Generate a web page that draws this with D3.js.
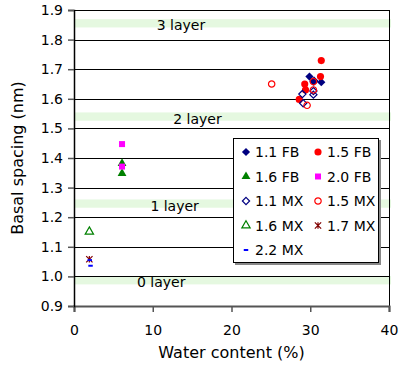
<!DOCTYPE html>
<html>
<head>
<meta charset="utf-8">
<script src="https://cdn.jsdelivr.net/npm/d3@7"></script>
<style>
  body { margin: 0; background: #fff; }
  text { font-family: "DejaVu Sans", Verdana, sans-serif; fill: #000; }
</style>
</head>
<body>
<div id="chart"></div>
<script>
// ---- data ----
const xTicks = [0, 10, 20, 30, 40];
const yTicks = [0.9, 1.0, 1.1, 1.2, 1.3, 1.4, 1.5, 1.6, 1.7, 1.8, 1.9];

const layerNames = ["0 layer", "1 layer", "2 layer", "3 layer"];
const layerSpacing = [0.987, 1.246, 1.54, 1.855];
const layerLabelX = [8.0, 9.7, 12.6, 10.5];

const seriesNames = ["1.1 FB", "1.5 FB", "1.6 FB", "2.0 FB", "1.1 MX", "1.5 MX", "1.6 MX", "1.7 MX", "2.2 MX"];
const fb11 = [[29.9, 1.675], [31.4, 1.656], [30.4, 1.658]];
const fb15 = [[31.4, 1.729], [31.3, 1.675], [29.3, 1.650], [29.4, 1.630], [28.6, 1.598]];
const fb16 = [[6.1, 1.382], [6.1, 1.348]];
const fb20 = [[6.1, 1.447], [6.1, 1.371]];
const mx11 = [[30.5, 1.660], [30.4, 1.626], [30.4, 1.614], [29.0, 1.616], [29.1, 1.585]];
const mx15 = [[25.1, 1.650], [30.4, 1.658], [30.4, 1.630], [29.6, 1.578]];
const mx16 = [[1.95, 1.151]];
const mx17 = [[1.95, 1.058]];
const mx22 = [[2.0, 1.055], [2.1, 1.036]];

// custom marker shapes
const asterisk = {
    draw(ctx, size) {
        const r = Math.sqrt(size) / 2;
        ctx.moveTo(-r, -r); ctx.lineTo(r, r);
        ctx.moveTo(-r, r); ctx.lineTo(r, -r);
        ctx.moveTo(0, -r); ctx.lineTo(0, r);
    }
};
const dash = {
    draw(ctx, size) {
        const w = Math.sqrt(size) / 2;
        ctx.rect(-w, -1, 2 * w, 2);
    }
};
const diamond = {
    draw(ctx, size) {
        const r = Math.sqrt(size / 2);
        ctx.moveTo(0, -r); ctx.lineTo(r, 0);
        ctx.lineTo(0, r); ctx.lineTo(-r, 0);
        ctx.closePath();
    }
};

const styles = [
    { data: fb11, type: diamond, size: 34, fill: "#000080", stroke: "none" },
    { data: fb15, type: d3.symbolCircle, size: 40, fill: "#ff0000", stroke: "none" },
    { data: fb16, type: d3.symbolTriangle, size: 34, fill: "#008000", stroke: "none" },
    { data: fb20, type: d3.symbolSquare, size: 36, fill: "#ff00ff", stroke: "none" },
    { data: mx11, type: diamond, size: 26, fill: "none", stroke: "#000080" },
    { data: mx15, type: d3.symbolCircle, size: 32, fill: "none", stroke: "#ff0000" },
    { data: mx16, type: d3.symbolTriangle, size: 30, fill: "none", stroke: "#008000" },
    { data: mx17, type: asterisk, size: 40, fill: "none", stroke: "#800000" },
    { data: mx22, type: dash, size: 20, fill: "#0000ff", stroke: "none" }
];

let margin = { top: 10, right: 13, bottom: 61, left: 74 },
    width = 402 - margin.left - margin.right,
    height = 367 - margin.top - margin.bottom;

let svg = d3.select("#chart")
    .append("svg")
    .attr("width", 402)
    .attr("height", 367)
    .append("g")
    .attr("transform", "translate(" + margin.left + "," + margin.top + ")");

let x = d3.scaleLinear().domain([0, 40]).range([0, width]);
let y = d3.scaleLinear().domain([0.9, 1.9]).range([height, 0]);

// ---- layer bands ----
svg.selectAll(".band")
    .data(layerSpacing)
    .enter()
    .append("rect")
    .attr("class", "band")
    .attr("x", 0)
    .attr("width", width + 2)
    .attr("y", d => y(d + 0.014))
    .attr("height", d => y(d - 0.014) - y(d + 0.014))
    .attr("fill", "#e5f8e0");

// ---- gridlines ----
svg.selectAll(".grid")
    .data(yTicks.slice(1))
    .enter()
    .append("line")
    .attr("class", "grid")
    .attr("x1", 0)
    .attr("x2", width)
    .attr("y1", d => Math.round(y(d)) + 0.5)
    .attr("y2", d => Math.round(y(d)) + 0.5)
    .attr("stroke", "#000")
    .attr("stroke-width", 1);

// right border
svg.append("line")
    .attr("x1", width + 0.5).attr("x2", width + 0.5)
    .attr("y1", 0).attr("y2", height)
    .attr("stroke", "#000");

// ---- layer labels ----
svg.selectAll(".layer")
    .data(layerNames)
    .enter()
    .append("text")
    .attr("class", "layer")
    .attr("x", (d, i) => x(layerLabelX[i]))
    .attr("y", (d, i) => y(layerSpacing[i]))
    .attr("dy", "0.5em")
    .style("font-size", "14px")
    .text(d => d);

// ---- axes ----
let xAxis = d3.axisBottom(x).tickValues(xTicks).tickSize(6).tickPadding(13).tickFormat(d3.format("d"));
let yAxis = d3.axisLeft(y).tickValues(yTicks).tickSize(6).tickPadding(5).tickFormat(d3.format(".1f"));

let xAxisGroup = svg.append("g")
    .attr("class", "x-axis axis")
    .attr("transform", "translate(0," + height + ")")
    .call(xAxis);
let yAxisGroup = svg.append("g")
    .attr("class", "y-axis axis")
    .call(yAxis);

svg.selectAll(".axis text").style("font-size", "14px");
xAxisGroup.select(".domain").attr("stroke", "#555").attr("stroke-width", 2);
xAxisGroup.selectAll(".tick line").attr("stroke", "#555").attr("stroke-width", 1.5);
yAxisGroup.select(".domain").attr("stroke", "#000").attr("stroke-width", 1.5);
yAxisGroup.selectAll(".tick line").attr("stroke", "#555").attr("stroke-width", 1.5);

// axis titles
svg.append("text")
    .attr("text-anchor", "middle")
    .attr("transform", "rotate(-90)")
    .attr("x", -height / 2)
    .attr("y", -51)
    .style("font-size", "16px")
    .text("Basal spacing (nm)");

svg.append("text")
    .attr("text-anchor", "middle")
    .attr("x", width / 2)
    .attr("y", height + 52)
    .style("font-size", "16px")
    .text("Water content (%)");

// ---- points ----
styles.forEach(function(s, i) {
    svg.selectAll(".pt" + i)
        .data(s.data)
        .enter()
        .append("path")
        .attr("class", "pt" + i)
        .attr("d", d3.symbol().type(s.type).size(s.size))
        .attr("transform", d => "translate(" + x(d[0]) + "," + y(d[1]) + ")")
        .attr("fill", s.fill)
        .attr("stroke", s.stroke)
        .attr("stroke-width", 1.2);
});

// ---- legend ----
let legend = svg.append("g").attr("transform", "translate(159,128)");
legend.append("rect")
    .attr("x", 2).attr("y", 2)
    .attr("width", 146).attr("height", 125)
    .attr("fill", "#888");
legend.append("rect")
    .attr("x", 0.5).attr("y", 0.5)
    .attr("width", 145).attr("height", 124)
    .attr("fill", "#fff")
    .attr("stroke", "#000");

let items = legend.selectAll(".item")
    .data(seriesNames)
    .enter()
    .append("g")
    .attr("class", "item")
    .attr("transform", (d, i) => "translate(" + (i % 2 === 0 ? 13 : 85) + "," + (14 + Math.floor(i / 2) * 24.5) + ")");

items.append("path")
    .attr("d", (d, i) => d3.symbol().type(styles[i].type).size(styles[i].size)())
    .attr("fill", (d, i) => styles[i].fill)
    .attr("stroke", (d, i) => styles[i].stroke)
    .attr("stroke-width", 1.2);

items.append("text")
    .attr("x", 9)
    .attr("dy", "0.36em")
    .style("font-size", "14px")
    .text(d => d);
</script>
</body>
</html>
